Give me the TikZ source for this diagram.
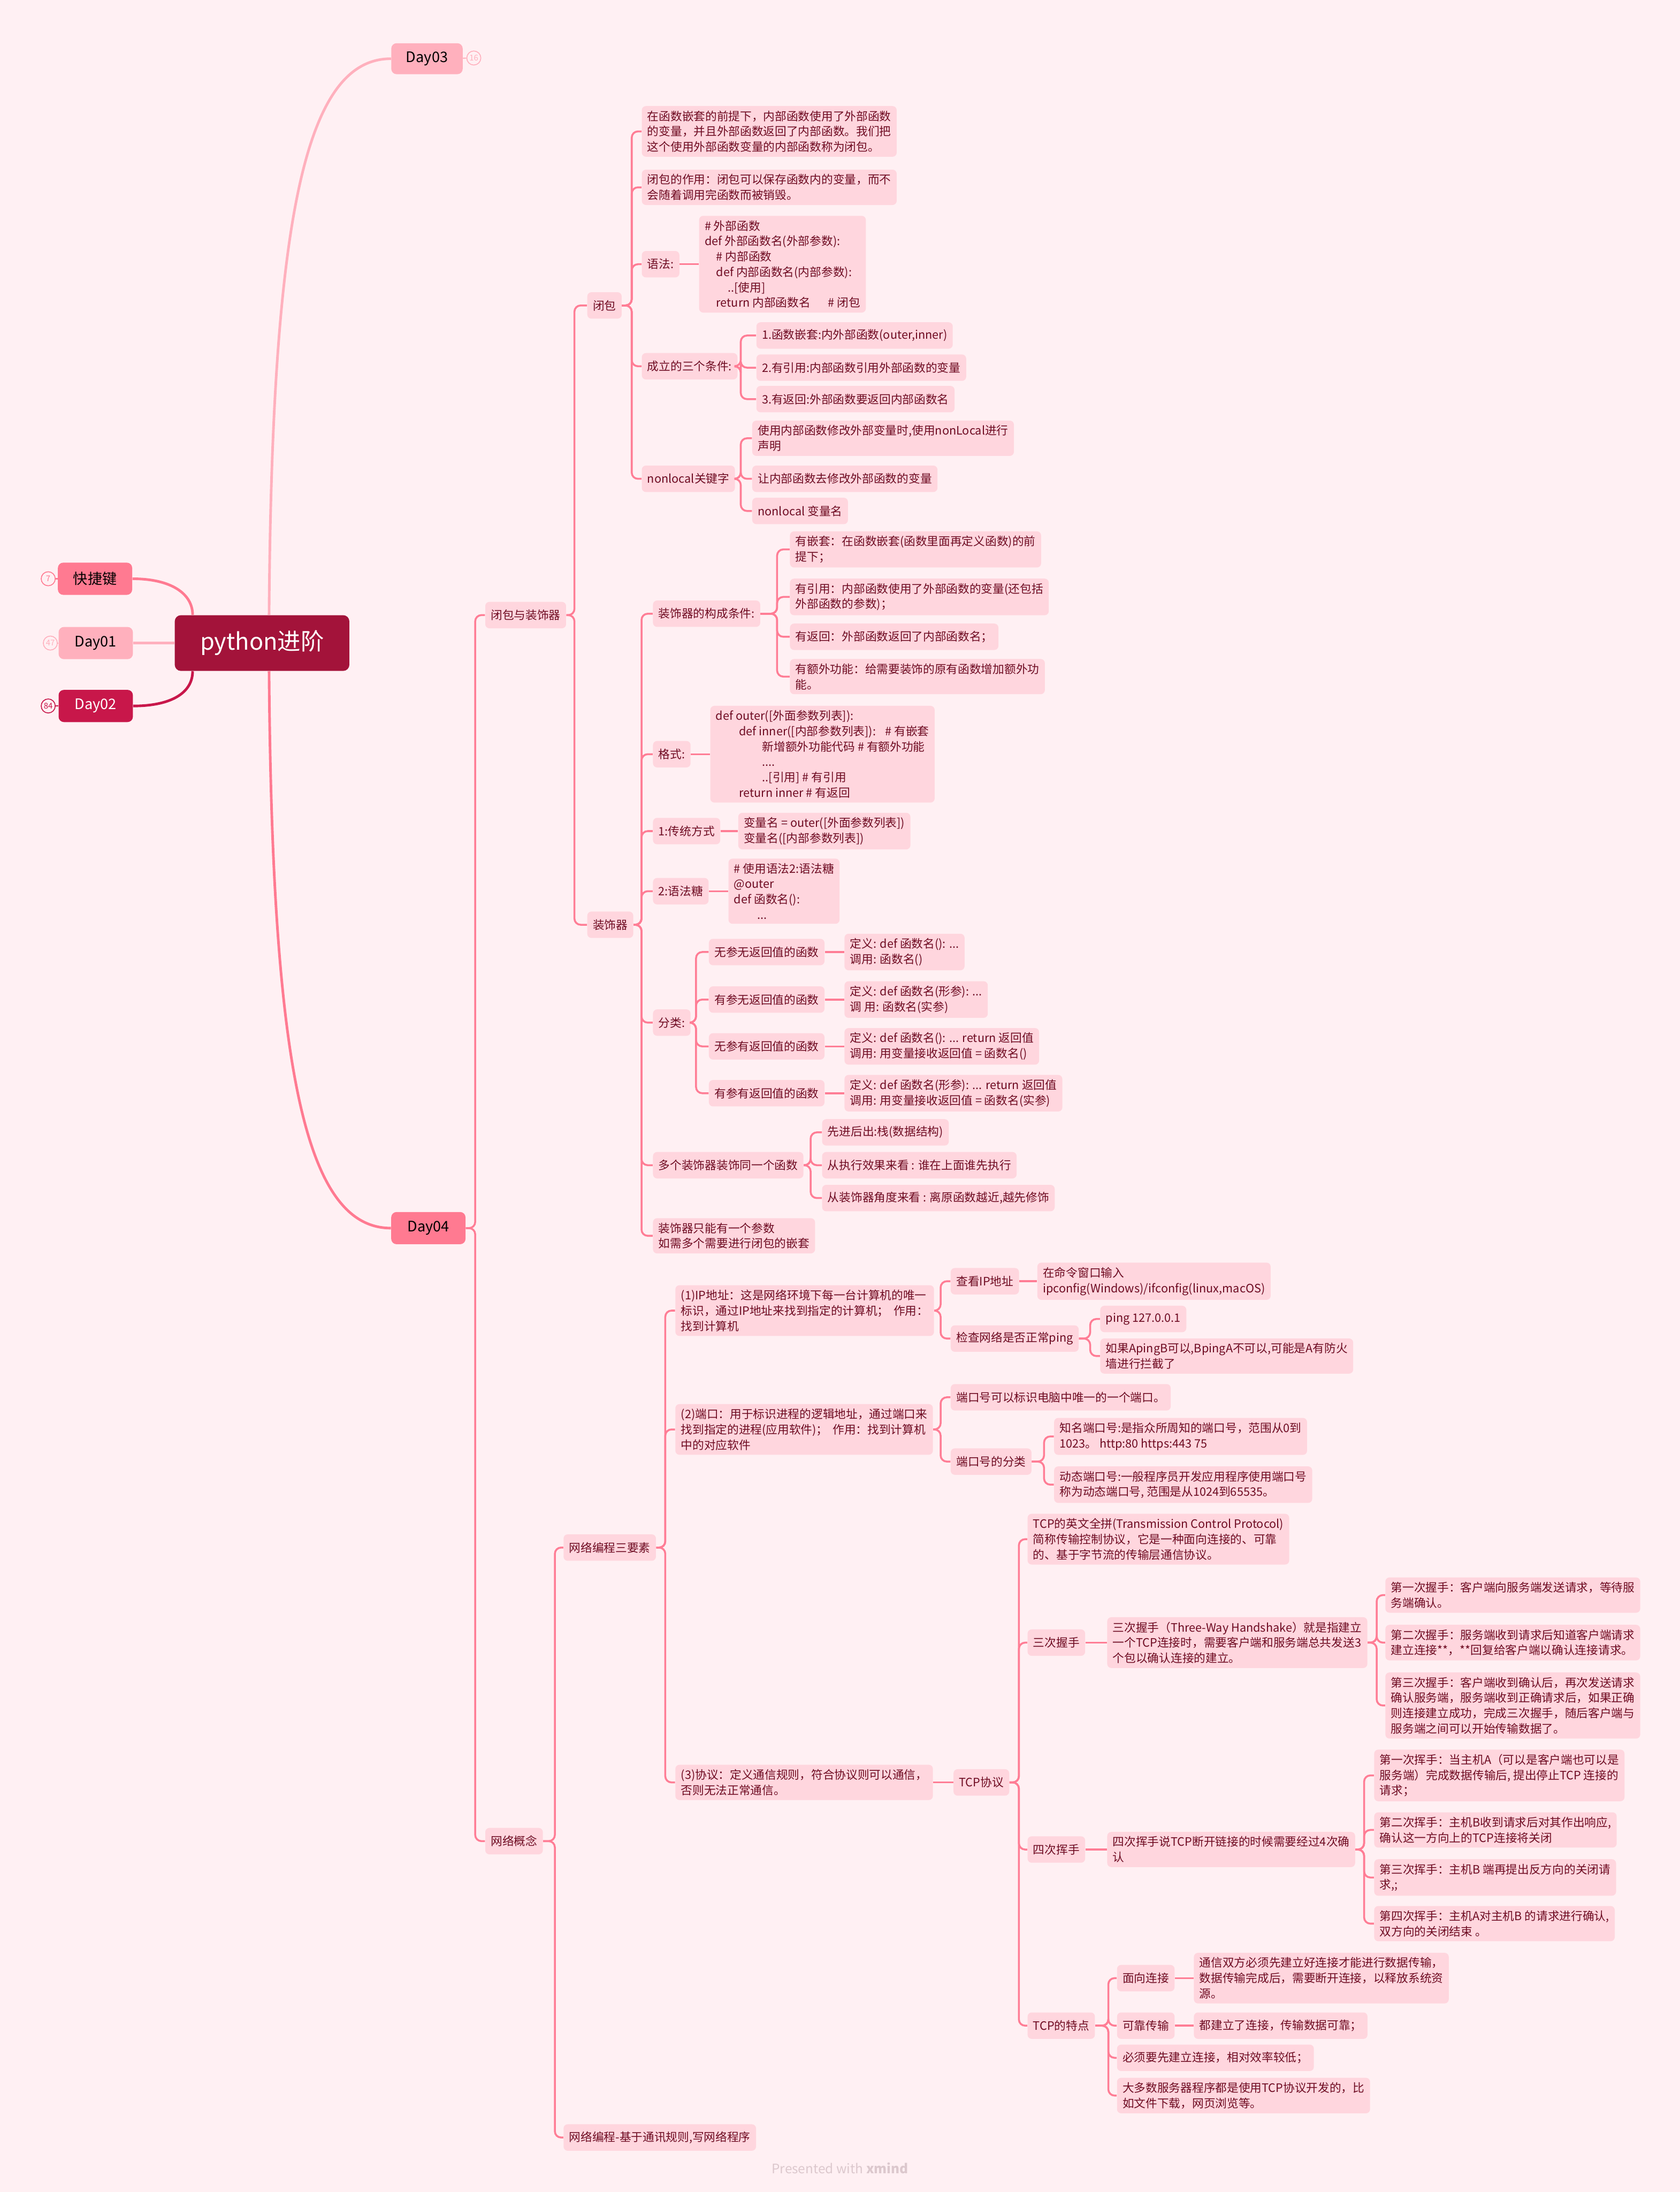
\documentclass[tikz,border=0pt]{standalone}
\usepackage{fontspec}
\setmainfont{Noto Sans CJK SC}
\definecolor{PageBg}{HTML}{FFF0F3}
\definecolor{LeafFill}{HTML}{FFD6DE}
\definecolor{LeafText}{HTML}{6E0B22}
\definecolor{LinkPink}{HTML}{FF7D95}
\definecolor{RosePink}{HTML}{FF7A91}
\definecolor{PalePink}{HTML}{FFB0BD}
\definecolor{Crimson}{HTML}{C8174A}
\definecolor{Wine}{HTML}{A3133A}
\definecolor{FootGrey}{HTML}{DCC8CD}
\tikzset{
  topic/.style={anchor=west,fill=LeafFill,text=LeafText,rounded corners=1mm,
    align=left,inner xsep=1.35mm,inner ysep=1.1mm,minimum height=6.4mm,
    font=\fontsize{8}{10.6}\selectfont},
  day/.style={rounded corners=1.3mm,minimum width=18mm,minimum height=7.8mm,
    font=\fontsize{10}{12}\selectfont},
  badge/.style={circle,draw,fill=PageBg,line width=0.6pt,inner sep=0pt,
    minimum size=3.4mm,font=\fontsize{5.5}{6}\selectfont},
  link/.style={LinkPink,line width=1.3pt,rounded corners=1.5mm},
  rootlink/.style={line width=1.8pt}
}

\begin{document}
\begin{tikzpicture}[x=0.3386mm,y=-0.3386mm]

\fill[PageBg] (0,0) rectangle (1202,1568);
\useasboundingbox (0,0) rectangle (1202,1568);

% central topic and days
\node[day,fill=Wine,text=white,minimum width=42.3mm,minimum height=13.5mm,
      rounded corners=1.5mm,font=\fontsize{16}{18}\selectfont] (root) at (187.5,460) {python进阶};
\node[day,fill=RosePink] (keys) at (68,414) {快捷键};
\node[day,fill=PalePink] (day01) at (68.5,460) {Day01};
\node[day,fill=Crimson,text=white] (day02) at (68.5,505) {Day02};
\node[day,fill=PalePink,minimum width=17.3mm,minimum height=7.5mm] (day03) at (305.5,42) {Day03};
\node[day,fill=RosePink] (day04) at (306.5,878.5) {Day04};

\node[badge,draw=RosePink,text=RosePink] (n7) at (34.5,414) {7};
\node[badge,draw=PalePink,text=PalePink] (n47) at (36,460) {47};
\node[badge,draw=Crimson,text=Crimson] (n84) at (34.5,505) {84};
\node[badge,draw=PalePink,text=PalePink] (n16) at (339,41.5) {16};
\draw[RosePink,line width=0.8pt] (n7) -- (keys);
\draw[PalePink,line width=0.8pt] (n47) -- (day01);
\draw[Crimson,line width=0.8pt] (n84) -- (day02);
\draw[PalePink,line width=0.8pt] (n16) -- (day03);

\draw[rootlink,RosePink] (keys.east) .. controls +(28,0) and +(0,-15) .. ([xshift=4.4mm]root.north west);
\draw[rootlink,PalePink] (root.west) -- (day01.east);
\draw[rootlink,Crimson] (day02.east) .. controls +(28,0) and +(0,15) .. ([xshift=4.4mm]root.south west);
\draw[rootlink,PalePink] ([xshift=1.7mm]root.north) .. controls +(2,-290) and +(-60,0) .. (day03.west);
\draw[rootlink,RosePink] ([xshift=1.7mm]root.south) .. controls +(2,290) and +(-60,0) .. (day04.west);

% closures and decorators
\node[topic] (cz) at (347,440) {闭包与装饰器};
\node[topic] (net) at (347,1317) {网络概念};
\node[topic] (bb) at (420,218.5) {闭包};
\node[topic] (zsq) at (420,661.5) {装饰器};

\node[topic] (bbdef) at (459,94) {在函数嵌套的前提下，内部函数使用了外部函数\\的变量，并且外部函数返回了内部函数。我们把\\这个使用外部函数变量的内部函数称为闭包。};
\node[topic] (bbuse) at (459,134) {闭包的作用：闭包可以保存函数内的变量，而不\\会随着调用完函数而被销毁。};
\node[topic] (syn) at (459,189) {语法:};
\node[topic] (syncode) at (500,189) {\# 外部函数\\def 外部函数名(外部参数):\\\hspace*{1em}\# 内部函数\\\hspace*{1em}def 内部函数名(内部参数):\\\hspace*{2em}..[使用]\\\hspace*{1em}return 内部函数名\hspace{1.5em}\# 闭包};
\node[topic] (cond) at (459,262) {成立的三个条件:};
\node[topic] (cond1) at (541,240) {1.函数嵌套:内外部函数(outer,inner)};
\node[topic] (cond2) at (541,263) {2.有引用:内部函数引用外部函数的变量};
\node[topic] (cond3) at (541,285.5) {3.有返回:外部函数要返回内部函数名};
\node[topic] (nl) at (459,342.5) {nonlocal关键字};
\node[topic] (nl1) at (538,313.5) {使用内部函数修改外部变量时,使用nonLocal进行\\声明};
\node[topic] (nl2) at (538,342.5) {让内部函数去修改外部函数的变量};
\node[topic] (nl3) at (538,365.5) {nonlocal 变量名};

\node[topic] (form) at (467,439) {装饰器的构成条件:};
\node[topic] (form1) at (565,393) {有嵌套：在函数嵌套(函数里面再定义函数)的前\\提下；};
\node[topic] (form2) at (565,427) {有引用：内部函数使用了外部函数的变量(还包括\\外部函数的参数)；};
\node[topic] (form3) at (565,455.5) {有返回：外部函数返回了内部函数名；};
\node[topic] (form4) at (565,484) {有额外功能：给需要装饰的原有函数增加额外功\\能。};
\node[topic] (fmt) at (467,539.5) {格式:};
\node[topic] (fmtcode) at (508,539.5) {def outer([外面参数列表]):\\\hspace*{2em}def inner([内部参数列表]):\hspace{0.8em}\# 有嵌套\\\hspace*{4em}新增额外功能代码 \# 有额外功能\\\hspace*{4em}....\\\hspace*{4em}..[引用] \# 有引用\\\hspace*{2em}return inner \# 有返回};
\node[topic] (old) at (467,594.5) {1:传统方式};
\node[topic] (oldcode) at (528,594.5) {变量名 = outer([外面参数列表])\\变量名([内部参数列表])};
\node[topic] (sugar) at (467,637.5) {2:语法糖};
\node[topic] (sugarcode) at (521,637.5) {\# 使用语法2:语法糖\\@outer\\def 函数名():\\\hspace*{2em}...};
\node[topic] (kind) at (467,731.5) {分类:};
\node[topic] (kind1) at (507,681) {无参无返回值的函数};
\node[topic] (kind2) at (507,715) {有参无返回值的函数};
\node[topic] (kind3) at (507,748.5) {无参有返回值的函数};
\node[topic] (kind4) at (507,782) {有参有返回值的函数};
\node[topic] (call1) at (604,681) {定义: def 函数名(): ...\\调用: 函数名()};
\node[topic] (call2) at (604,715) {定义: def 函数名(形参): ...\\调 用: 函数名(实参)};
\node[topic] (call3) at (604,748.5) {定义: def 函数名(): ... return 返回值\\调用: 用变量接收返回值 = 函数名()};
\node[topic] (call4) at (604,782) {定义: def 函数名(形参): ... return 返回值\\调用: 用变量接收返回值 = 函数名(实参)};
\node[topic] (multi) at (467,833.5) {多个装饰器装饰同一个函数};
\node[topic] (multi1) at (588,810) {先进后出:栈(数据结构)};
\node[topic] (multi2) at (588,833.5) {从执行效果来看 : 谁在上面谁先执行};
\node[topic] (multi3) at (588,857) {从装饰器角度来看 : 离原函数越近,越先修饰};
\node[topic] (onearg) at (467,884) {装饰器只能有一个参数\\如需多个需要进行闭包的嵌套};

% network
\node[topic] (three) at (403,1107) {网络编程三要素};
\node[topic] (rule) at (403,1529) {网络编程-基于通讯规则,写网络程序};
\node[topic] (ipaddr) at (483,937.5) {(1)IP地址：这是网络环境下每一台计算机的唯一\\标识，通过IP地址来找到指定的计算机；\hspace{0.4em}作用：\\找到计算机};
\node[topic] (seeip) at (680,916.5) {查看IP地址};
\node[topic] (seeipcmd) at (742,916.5) {在命令窗口输入\\ipconfig(Windows)/ifconfig(linux,macOS)};
\node[topic] (ping) at (680,957.5) {检查网络是否正常ping};
\node[topic] (ping1) at (787,943.5) {ping 127.0.0.1};
\node[topic] (ping2) at (787,970) {如果ApingB可以,BpingA不可以,可能是A有防火\\墙进行拦截了};
\node[topic] (port) at (483,1022.5) {(2)端口：用于标识进程的逻辑地址，通过端口来\\找到指定的进程(应用软件)；\hspace{0.4em}作用：找到计算机\\中的对应软件};
\node[topic] (port1) at (680,999.5) {端口号可以标识电脑中唯一的一个端口。};
\node[topic] (portkind) at (680,1045.5) {端口号的分类};
\node[topic] (portkind1) at (754,1027.5) {知名端口号:是指众所周知的端口号，范围从0到\\1023。 http:80 https:443 75};
\node[topic] (portkind2) at (754,1062) {动态端口号:一般程序员开发应用程序使用端口号\\称为动态端口号, 范围是从1024到65535。};
\node[topic] (proto) at (483,1275) {(3)协议：定义通信规则，符合协议则可以通信，\\否则无法正常通信。};
\node[topic] (tcp) at (682,1275) {TCP协议};
\node[topic] (tcpname) at (735,1101) {TCP的英文全拼(Transmission Control Protocol)\\简称传输控制协议，它是一种面向连接的、可靠\\的、基于字节流的传输层通信协议。};
\node[topic] (hs) at (735,1175) {三次握手};
\node[topic] (hsdef) at (792,1175) {三次握手（Three-Way Handshake）就是指建立\\一个TCP连接时，需要客户端和服务端总共发送3\\个包以确认连接的建立。};
\node[topic] (hs1) at (991,1141) {第一次握手：客户端向服务端发送请求，等待服\\务端确认。};
\node[topic] (hs2) at (991,1175) {第二次握手：服务端收到请求后知道客户端请求\\建立连接**，**回复给客户端以确认连接请求。};
\node[topic] (hs3) at (991,1220) {第三次握手：客户端收到确认后，再次发送请求\\确认服务端，服务端收到正确请求后，如果正确\\则连接建立成功，完成三次握手，随后客户端与\\服务端之间可以开始传输数据了。};
\node[topic] (wave) at (735,1323) {四次挥手};
\node[topic] (wavedef) at (792,1323) {四次挥手说TCP断开链接的时候需要经过4次确\\认};
\node[topic] (wave1) at (983,1270) {第一次挥手：当主机A（可以是客户端也可以是\\服务端）完成数据传输后, 提出停止TCP 连接的\\请求；};
\node[topic] (wave2) at (983,1309) {第二次挥手：主机B收到请求后对其作出响应,\\确认这一方向上的TCP连接将关闭};
\node[topic] (wave3) at (983,1343) {第三次挥手：主机B 端再提出反方向的关闭请\\求,;};
\node[topic] (wave4) at (983,1376) {第四次挥手：主机A对主机B 的请求进行确认,\\双方向的关闭结束 。};
\node[topic] (feat) at (735,1449) {TCP的特点};
\node[topic] (feat1) at (799,1415) {面向连接};
\node[topic] (feat1d) at (854,1415) {通信双方必须先建立好连接才能进行数据传输，\\数据传输完成后，需要断开连接，以释放系统资\\源。};
\node[topic] (feat2) at (799,1449) {可靠传输};
\node[topic] (feat2d) at (854,1449) {都建立了连接，传输数据可靠；};
\node[topic] (feat3) at (799,1472) {必须要先建立连接，相对效率较低；};
\node[topic] (feat4) at (799,1499) {大多数服务器程序都是使用TCP协议开发的，比\\如文件下载，网页浏览等。};

\node[text=FootGrey,font=\fontsize{9}{10}\selectfont] (credit) at (601,1551) {Presented with \textbf{xmind}};

% branches
\foreach \kid in {cz,net} \draw[link] (\kid.west) -- ++(-7,0) |- (day04.east);
\foreach \kid in {bb,zsq} \draw[link] (\kid.west) -- ++(-9,0) |- (cz.east);
\foreach \kid in {bbdef,bbuse,syn,cond,nl} \draw[link] (\kid.west) -- ++(-7,0) |- (bb.east);
\draw[link] (syn.east) -- (syncode.west);
\foreach \i in {1,2,3} \draw[link] (cond\i.west) -- ++(-11,0) |- (cond.east);
\foreach \i in {1,2,3} \draw[link] (nl\i.west) -- ++(-8,0) |- (nl.east);
\foreach \kid in {form,fmt,old,sugar,kind,multi,onearg} \draw[link] (\kid.west) -- ++(-8,0) |- (zsq.east);
\foreach \i in {1,...,4} \draw[link] (form\i.west) -- ++(-9,0) |- (form.east);
\draw[link] (fmt.east) -- (fmtcode.west);
\draw[link] (old.east) -- (oldcode.west);
\draw[link] (sugar.east) -- (sugarcode.west);
\foreach \i in {1,...,4} {
  \draw[link] (kind\i.west) -- ++(-9,0) |- (kind.east);
  \draw[link] (kind\i.east) -- (call\i.west);
}
\foreach \i in {1,2,3} \draw[link] (multi\i.west) -- ++(-8,0) |- (multi.east);

\foreach \kid in {three,rule} \draw[link] (\kid.west) -- ++(-6,0) |- (net.east);
\foreach \kid in {ipaddr,port,proto} \draw[link] (\kid.west) -- ++(-7,0) |- (three.east);
\foreach \kid in {seeip,ping} \draw[link] (\kid.west) -- ++(-7,0) |- (ipaddr.east);
\draw[link] (seeip.east) -- (seeipcmd.west);
\foreach \i in {1,2} \draw[link] (ping\i.west) -- ++(-7,0) |- (ping.east);
\foreach \kid in {port1,portkind} \draw[link] (\kid.west) -- ++(-7,0) |- (port.east);
\foreach \i in {1,2} \draw[link] (portkind\i.west) -- ++(-7,0) |- (portkind.east);
\draw[link] (proto.east) -- (tcp.west);
\foreach \kid in {tcpname,hs,wave,feat} \draw[link] (\kid.west) -- ++(-6,0) |- (tcp.east);
\draw[link] (hs.east) -- (hsdef.west);
\foreach \i in {1,2,3} \draw[link] (hs\i.west) -- ++(-6,0) |- (hsdef.east);
\draw[link] (wave.east) -- (wavedef.west);
\foreach \i in {1,...,4} \draw[link] (wave\i.west) -- ++(-7,0) |- (wavedef.east);
\foreach \i in {1,...,4} \draw[link] (feat\i.west) -- ++(-6,0) |- (feat.east);
\draw[link] (feat1.east) -- (feat1d.west);
\draw[link] (feat2.east) -- (feat2d.west);

\end{tikzpicture}
\end{document}
